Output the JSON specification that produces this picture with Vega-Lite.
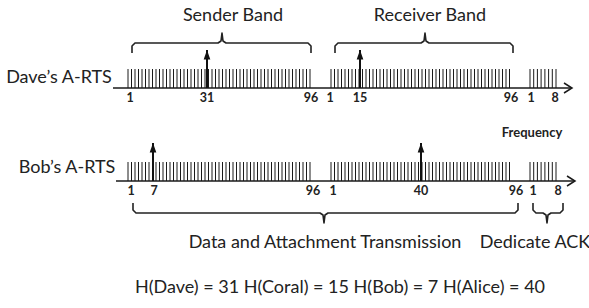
{
  "$schema": "https://vega.github.io/schema/vega-lite/v6.json",
  "width": 589,
  "height": 308,
  "autosize": "none",
  "padding": 0,
  "background": "white",
  "config": {"view": {"stroke": null}},
  "datasets": {
    "ticks": [
      {"x":128},{"x":131.5},{"x":135},{"x":138.5},{"x":142},{"x":145.5},{"x":149},{"x":152.5},{"x":156},{"x":159.5},
      {"x":163},{"x":166.5},{"x":170},{"x":173.5},{"x":177},{"x":180.5},{"x":184},{"x":187.5},{"x":191},{"x":194.5},
      {"x":198},{"x":201.5},{"x":205},{"x":208.5},{"x":212},{"x":215.5},{"x":219},{"x":222.5},{"x":226},{"x":229.5},
      {"x":233},{"x":236.5},{"x":240},{"x":243.5},{"x":247},{"x":250.5},{"x":254},{"x":257.5},{"x":261},{"x":264.5},
      {"x":268},{"x":271.5},{"x":275},{"x":278.5},{"x":282},{"x":285.5},{"x":289},{"x":292.5},{"x":296},{"x":299.5},
      {"x":303},{"x":306.5},{"x":310},
      {"x":331},{"x":334.5},{"x":338},{"x":341.5},{"x":345},{"x":348.5},{"x":352},{"x":355.5},{"x":359},{"x":362.5},
      {"x":366},{"x":369.5},{"x":373},{"x":376.5},{"x":380},{"x":383.5},{"x":387},{"x":390.5},{"x":394},{"x":397.5},
      {"x":401},{"x":404.5},{"x":408},{"x":411.5},{"x":415},{"x":418.5},{"x":422},{"x":425.5},{"x":429},{"x":432.5},
      {"x":436},{"x":439.5},{"x":443},{"x":446.5},{"x":450},{"x":453.5},{"x":457},{"x":460.5},{"x":464},{"x":467.5},
      {"x":471},{"x":474.5},{"x":478},{"x":481.5},{"x":485},{"x":488.5},{"x":492},{"x":495.5},{"x":499},{"x":502.5},
      {"x":506},{"x":509.5},
      {"x":530},{"x":533.7},{"x":537.4},{"x":541.1},{"x":544.9},{"x":548.6},{"x":552.3},{"x":556}
    ],
    "axes": [
      {"row":"Dave","x":113,"x2":572,"y":88},
      {"row":"Bob","x":116,"x2":575,"y":181}
    ],
    "arrows": [
      {"ch":"31","x":207,"base":88,"tip":50},
      {"ch":"15","x":360,"base":88,"tip":50},
      {"ch":"7","x":153,"base":181,"tip":143},
      {"ch":"40","x":421,"base":181,"tip":143}
    ],
    "brackets": [
      {"b":"sender","i":1,"x":132,"y":53},{"b":"sender","i":2,"x":132,"y":46},{"b":"sender","i":3,"x":135,"y":43},
      {"b":"sender","i":4,"x":218,"y":43},{"b":"sender","i":5,"x":221,"y":41},{"b":"sender","i":6,"x":222,"y":33},
      {"b":"sender","i":7,"x":223,"y":41},{"b":"sender","i":8,"x":226,"y":43},{"b":"sender","i":9,"x":308,"y":43},
      {"b":"sender","i":10,"x":311,"y":46},{"b":"sender","i":11,"x":311,"y":53},
      {"b":"receiver","i":1,"x":335,"y":53},{"b":"receiver","i":2,"x":335,"y":46},{"b":"receiver","i":3,"x":338,"y":43},
      {"b":"receiver","i":4,"x":421,"y":43},{"b":"receiver","i":5,"x":424,"y":41},{"b":"receiver","i":6,"x":425,"y":33},
      {"b":"receiver","i":7,"x":426,"y":41},{"b":"receiver","i":8,"x":429,"y":43},{"b":"receiver","i":9,"x":510,"y":43},
      {"b":"receiver","i":10,"x":513,"y":46},{"b":"receiver","i":11,"x":513,"y":53},
      {"b":"data","i":1,"x":133,"y":203},{"b":"data","i":2,"x":133,"y":210},{"b":"data","i":3,"x":136,"y":213},
      {"b":"data","i":4,"x":320,"y":213},{"b":"data","i":5,"x":323,"y":215},{"b":"data","i":6,"x":324,"y":223},
      {"b":"data","i":7,"x":325,"y":215},{"b":"data","i":8,"x":328,"y":213},{"b":"data","i":9,"x":515,"y":213},
      {"b":"data","i":10,"x":518,"y":210},{"b":"data","i":11,"x":518,"y":203},
      {"b":"ack","i":1,"x":533,"y":203},{"b":"ack","i":2,"x":533,"y":210},{"b":"ack","i":3,"x":536,"y":213},
      {"b":"ack","i":4,"x":543,"y":213},{"b":"ack","i":5,"x":546,"y":215},{"b":"ack","i":6,"x":547,"y":223},
      {"b":"ack","i":7,"x":548,"y":215},{"b":"ack","i":8,"x":551,"y":213},{"b":"ack","i":9,"x":560,"y":213},
      {"b":"ack","i":10,"x":563,"y":210},{"b":"ack","i":11,"x":563,"y":203}
    ],
    "texts": [
      {"t":"Sender Band","x":233,"y":16,"k":"title"},
      {"t":"Receiver Band","x":430,"y":16,"k":"title"},
      {"t":"Dave’s A-RTS","x":59,"y":78,"k":"title"},
      {"t":"Bob’s A-RTS","x":67,"y":168,"k":"title"},
      {"t":"Data and Attachment Transmission","x":325,"y":243,"k":"title"},
      {"t":"Dedicate ACK","x":535,"y":243,"k":"title"},
      {"t":"H(Dave) = 31 H(Coral) = 15 H(Bob) = 7 H(Alice) = 40","x":340,"y":288,"k":"title"},
      {"t":"Frequency","x":532,"y":133,"k":"freq"},
      {"t":"1","x":130,"y":98,"k":"tick"},
      {"t":"31","x":207,"y":98,"k":"tick"},
      {"t":"96","x":311,"y":98,"k":"tick"},
      {"t":"1","x":330,"y":98,"k":"tick"},
      {"t":"15","x":360,"y":98,"k":"tick"},
      {"t":"96","x":511,"y":98,"k":"tick"},
      {"t":"1","x":531,"y":98,"k":"tick"},
      {"t":"8","x":555,"y":98,"k":"tick"},
      {"t":"1","x":131,"y":191,"k":"tick"},
      {"t":"7","x":154,"y":191,"k":"tick"},
      {"t":"96","x":313,"y":191,"k":"tick"},
      {"t":"1","x":333,"y":191,"k":"tick"},
      {"t":"40","x":421,"y":191,"k":"tick"},
      {"t":"96","x":516,"y":191,"k":"tick"},
      {"t":"1","x":533,"y":191,"k":"tick"},
      {"t":"8","x":558,"y":191,"k":"tick"}
    ]
  },
  "encoding": {},
  "layer": [
    {
      "data": {"name": "ticks"},
      "mark": {"type": "rule", "stroke": "#1a1a1a", "strokeWidth": 1},
      "encoding": {
        "x": {"field": "x", "type": "quantitative", "scale": {"domain": [0, 589], "nice": false, "zero": false}, "axis": null},
        "y": {"datum": 69, "type": "quantitative", "scale": {"domain": [0, 308], "reverse": true, "nice": false, "zero": false}, "axis": null},
        "y2": {"datum": 88}
      }
    },
    {
      "data": {"name": "ticks"},
      "mark": {"type": "rule", "stroke": "#1a1a1a", "strokeWidth": 1},
      "encoding": {
        "x": {"field": "x", "type": "quantitative"},
        "y": {"datum": 162, "type": "quantitative"},
        "y2": {"datum": 181}
      }
    },
    {
      "data": {"name": "axes"},
      "mark": {"type": "rule", "stroke": "#1a1a1a", "strokeWidth": 1.5},
      "encoding": {
        "x": {"field": "x", "type": "quantitative"},
        "x2": {"field": "x2"},
        "y": {"field": "y", "type": "quantitative"}
      }
    },
    {
      "data": {"name": "axes"},
      "mark": {"type": "point", "shape": "M-1.6,-1L0,0L-1.6,1", "size": 100, "filled": false, "stroke": "#1a1a1a", "strokeWidth": 1.5, "opacity": 1},
      "encoding": {
        "x": {"field": "x2", "type": "quantitative"},
        "y": {"field": "y", "type": "quantitative"}
      }
    },
    {
      "data": {"name": "arrows"},
      "mark": {"type": "rule", "stroke": "#111", "strokeWidth": 2},
      "encoding": {
        "x": {"field": "x", "type": "quantitative"},
        "y": {"field": "base", "type": "quantitative"},
        "y2": {"field": "tip"}
      }
    },
    {
      "data": {"name": "arrows"},
      "mark": {"type": "point", "shape": "M0,0L0.7,2L-0.7,2Z", "size": 90, "filled": true, "fill": "#111", "opacity": 1},
      "encoding": {
        "x": {"field": "x", "type": "quantitative"},
        "y": {"field": "tip", "type": "quantitative"}
      }
    },
    {
      "data": {"name": "brackets"},
      "mark": {"type": "line", "stroke": "#222", "strokeWidth": 1.6, "strokeJoin": "round"},
      "encoding": {
        "x": {"field": "x", "type": "quantitative"},
        "y": {"field": "y", "type": "quantitative"},
        "detail": {"field": "b"},
        "order": {"field": "i"}
      }
    },
    {
      "data": {"name": "texts"},
      "transform": [{"filter": "datum.k === 'title'"}],
      "mark": {"type": "text", "font": "Lato", "fontSize": 18, "fill": "#222", "align": "center", "baseline": "middle"},
      "encoding": {
        "x": {"field": "x", "type": "quantitative"},
        "y": {"field": "y", "type": "quantitative"},
        "text": {"field": "t"}
      }
    },
    {
      "data": {"name": "texts"},
      "transform": [{"filter": "datum.k === 'tick'"}],
      "mark": {"type": "text", "font": "Lato", "fontSize": 12.5, "fontWeight": "bold", "fill": "#222", "align": "center", "baseline": "middle"},
      "encoding": {
        "x": {"field": "x", "type": "quantitative"},
        "y": {"field": "y", "type": "quantitative"},
        "text": {"field": "t"}
      }
    },
    {
      "data": {"name": "texts"},
      "transform": [{"filter": "datum.k === 'freq'"}],
      "mark": {"type": "text", "font": "Lato", "fontSize": 13, "fontWeight": "bold", "fill": "#222", "align": "center", "baseline": "middle"},
      "encoding": {
        "x": {"field": "x", "type": "quantitative"},
        "y": {"field": "y", "type": "quantitative"},
        "text": {"field": "t"}
      }
    }
  ]
}
